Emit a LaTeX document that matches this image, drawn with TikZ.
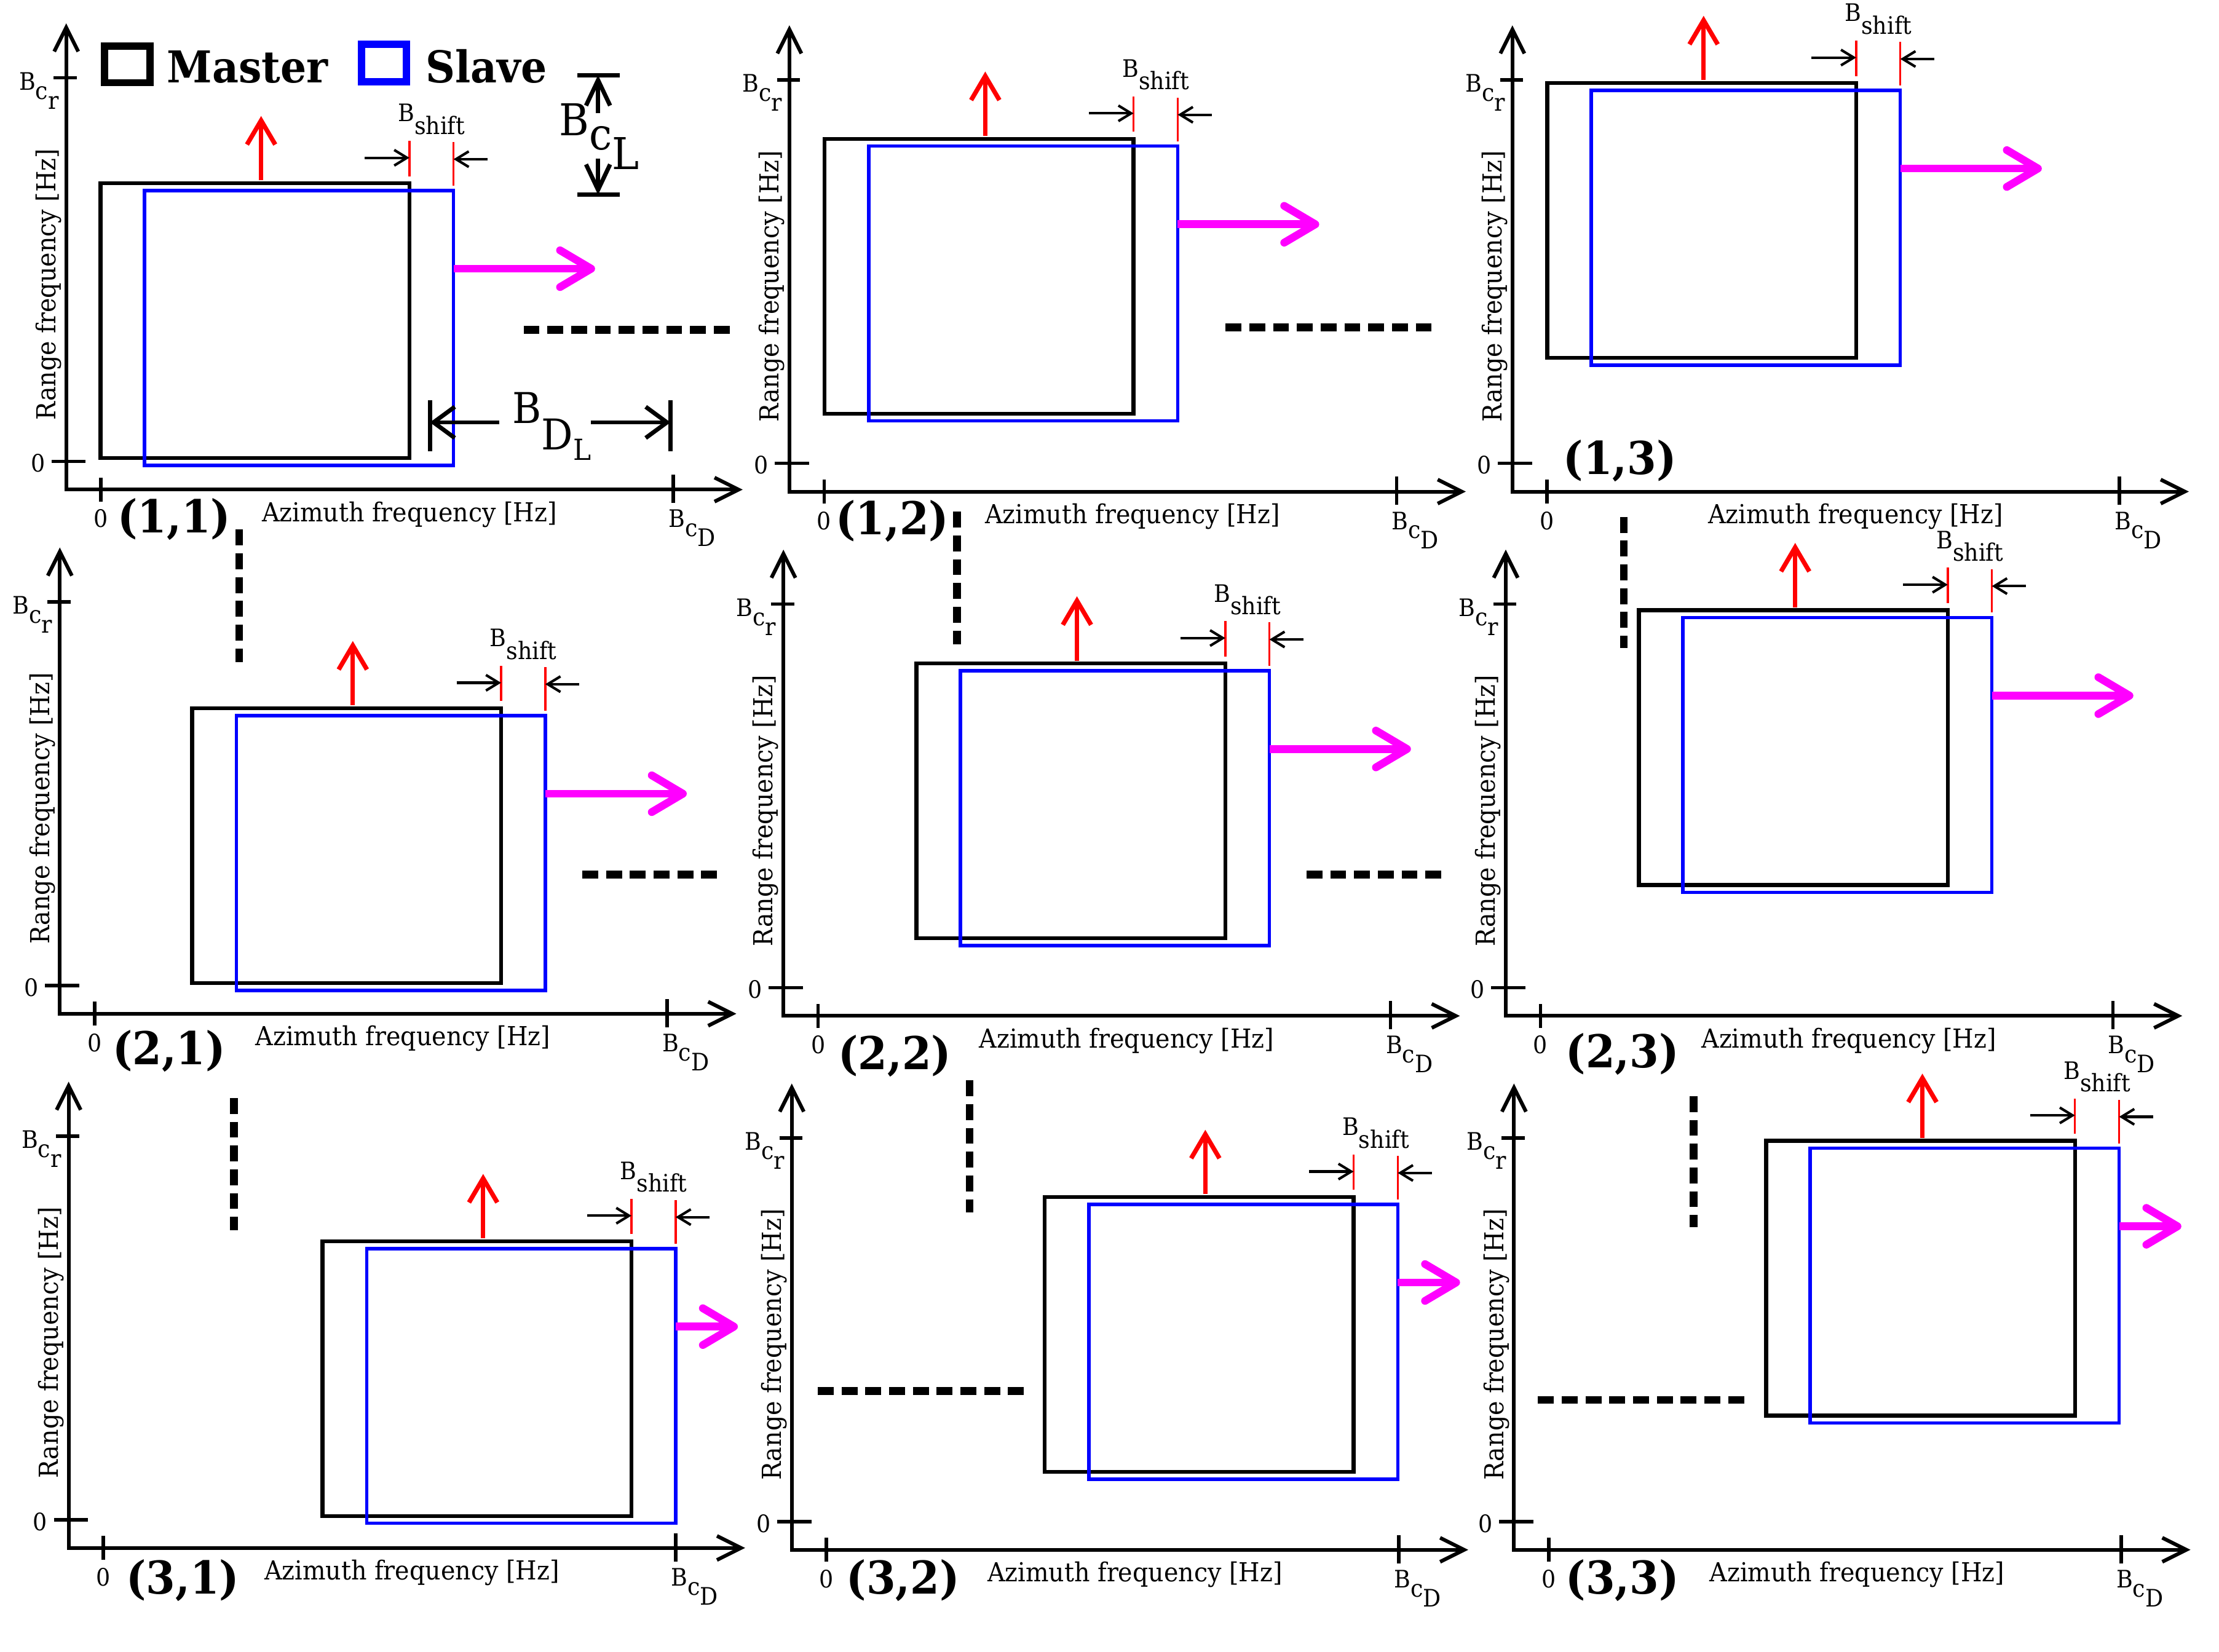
\documentclass[tikz,border=0pt]{standalone}
\usepackage{fontspec}
\setmainfont{DejaVu Serif}[FakeStretch=0.93]
\usetikzlibrary{arrows.meta}
\definecolor{magc}{RGB}{255,0,255}
\definecolor{pblue}{RGB}{0,0,255}
\definecolor{pred}{RGB}{255,0,0}
\newcommand\ftS{\fontsize{17}{20}\selectfont}
\newcommand\ftA{\fontsize{18.5}{22}\selectfont}
\newcommand\ftL{\bfseries\fontsize{32}{36}\selectfont}
\newcommand\ftG{\bfseries\fontsize{31}{35}\selectfont}
\newcommand\ftB{\fontsize{31}{35}\selectfont}
\newcommand\BBsub[2]{B\raisebox{-6.5pt}{#1\raisebox{-7pt}{#2}}}
\newcommand\Bshiftlab{B\raisebox{-8.8pt}{shift}}
\tikzset{
 axisline/.style={line width=2.6pt, {Straight Barb[length=17pt,width=17pt]}-{Straight Barb[length=17pt,width=17pt]}},
 tickline/.style={line width=2.4pt},
 masterbox/.style={line width=2.8pt, black},
 slavebox/.style={line width=2.4pt, pblue},
 redarrow/.style={line width=3.2pt, pred, -{Straight Barb[length=17pt,width=20pt]}},
 redtick/.style={line width=1.5pt, pred},
 smallarrow/.style={line width=1.8pt, -{Straight Barb[length=9pt,width=11pt]}},
 magarrow/.style={line width=5.5pt, magc, -{Straight Barb[length=22pt,width=26pt,round]}},
 dashline/.style={line width=5.5pt, dash pattern=on 11.2pt off 5.6pt},
 smalltext/.style={font=\ftS, inner sep=0pt},
 axtext/.style={font=\ftA, inner sep=0pt},
 paneltext/.style={font=\ftL, inner sep=0pt},
 dimarrow/.style={line width=3pt, -{Straight Barb[length=15pt,width=22pt]}},
 dimbar/.style={line width=3pt},
}
% #1 id, #2 Ox, #3 Oy, #4 red arrow offset, #5 master left, #6 master bottom, #7 magenta length
\newcommand\SARpanel[7]{%
\begin{scope}[shift={(#2,#3)}]
 \pgfmathsetmacro\PmL{#5}
 \pgfmathsetmacro\PmB{#6}
 \pgfmathsetmacro\PmR{#5+218.3}
 \pgfmathsetmacro\PmT{#6+194.2}
 \pgfmathsetmacro\PsL{#5+31.2}
 \pgfmathsetmacro\PsR{#5+218.3+31.2}
 \pgfmathsetmacro\PsB{#6-5.2}
 \pgfmathsetmacro\PsT{#6+194.2-5.2}
 \pgfmathsetmacro\PmC{(\PmR+\PsR)/2}
 \pgfmathsetmacro\PrX{#5+#4}
 \coordinate (#1-o) at (0,0);
 \coordinate (#1-xe) at (478,0);
 \coordinate (#1-ye) at (0,329.5);
 \draw[axisline] (#1-ye) -- (#1-o) -- (#1-xe);
 \draw[tickline] (24.5,-8.5) -- (24.5,8.5);
 \draw[tickline] (429,-9.5) -- (429,10.5);
 \draw[tickline] (-10.4,20) -- (13.8,20);
 \draw[tickline] (-8.8,291) -- (7.6,291);
 \node[smalltext, anchor=base] (#1-x0) at (24.5,-26.7) {0};
 \node[smalltext, anchor=base west] (#1-xb) at (425.5,-26.7) {\BBsub{c}{D}};
 \node[smalltext, anchor=base east] (#1-y0) at (-14.8,12.5) {0};
 \node[smalltext, anchor=base east] (#1-yb) at (-5,282.4) {\BBsub{c}{r}};
 \node[axtext, anchor=base] (#1-xl) at (242.5,-22.5) {Azimuth frequency [Hz]};
 \node[axtext, rotate=90, anchor=base] (#1-yl) at (-7.5,145) {Range frequency [Hz]};
 \draw[masterbox] (\PmL,\PmB) rectangle (\PmR,\PmT);
 \draw[slavebox] (\PsL,\PsB) rectangle (\PsR,\PsT);
 \draw[redarrow] (\PrX,\PmT+2) -- (\PrX,\PmT+47.5);
 \draw[redtick] (\PmR,\PmT+5) -- (\PmR,\PmT+30);
 \draw[redtick] (\PsR,\PmT-1.7) -- (\PsR,\PmT+29);
 \draw[smallarrow] (\PmR-31.5,\PmT+18) -- (\PmR,\PmT+18);
 \draw[smallarrow] (\PsR+24,\PmT+17) -- (\PsR,\PmT+17);
 \node[smalltext, anchor=base] (#1-bs) at (\PmC,\PmT+43.5) {\Bshiftlab};
 \draw[magarrow] (\PsR,\PmT-60.4) -- (\PsR+#7,\PmT-60.4);
\end{scope}}
\begin{document}
\begin{tikzpicture}[x=1pt,y=1pt]
\path[use as bounding box, fill=white] (0,0) rectangle (1568,1167);
\SARpanel{p11}{46.8}{821}{113.5}{24.2}{22.3}{100}
\SARpanel{p12}{557.8}{819.6}{113.5}{24.9}{55.1}{100}
\SARpanel{p13}{1068.7}{819.6}{110.5}{24.6}{94.5}{100}
\SARpanel{p21}{42.3}{450.6}{113.5}{93.5}{21.7}{100}
\SARpanel{p22}{553.6}{449.1}{113.5}{93.9}{54.8}{100}
\SARpanel{p23}{1064}{449.1}{110.5}{94}{92.5}{100}
\SARpanel{p31}{48.5}{73.1}{113.5}{179.4}{22.6}{44}
\SARpanel{p32}{559.5}{71.8}{113.5}{178.7}{55.1}{44}
\SARpanel{p33}{1069.8}{71.8}{110.5}{178.1}{94.8}{44}
% panel labels
\node[paneltext, anchor=base] (lab11) at (123,790.4) {(1,1)};
\node[paneltext, anchor=base] (lab12) at (630.5,789.2) {(1,2)};
\node[paneltext, anchor=base] (lab13) at (1144.7,831.6) {(1,3)};
\node[paneltext, anchor=base] (lab21) at (119.5,414.9) {(2,1)};
\node[paneltext, anchor=base] (lab22) at (632.2,411.1) {(2,2)};
\node[paneltext, anchor=base] (lab23) at (1146.4,412.4) {(2,3)};
\node[paneltext, anchor=base] (lab31) at (129.2,40.7) {(3,1)};
\node[paneltext, anchor=base] (lab32) at (638.1,40.7) {(3,2)};
\node[paneltext, anchor=base] (lab33) at (1146.4,40.7) {(3,3)};
% horizontal dashed links
\coordinate (h1a) at (370,933.8); \coordinate (h1b) at (517,933.8);
\coordinate (h2a) at (866,935.6); \coordinate (h2b) at (1013,935.6);
\coordinate (h3a) at (411.5,549); \coordinate (h3b) at (508,549);
\coordinate (h4a) at (923.2,549); \coordinate (h4b) at (1019.5,549);
\coordinate (h5a) at (577.9,184); \coordinate (h5b) at (725.1,184);
\coordinate (h6a) at (1086.8,177.7); \coordinate (h6b) at (1234.2,177.7);
\draw[dashline] (h1a) -- (h1b);
\draw[dashline] (h2a) -- (h2b);
\draw[dashline] (h3a) -- (h3b);
\draw[dashline] (h4a) -- (h4b);
\draw[dashline] (h5a) -- (h5b);
\draw[dashline] (h6a) -- (h6b);
% vertical dashed links
\coordinate (v1a) at (169,792.7); \coordinate (v1b) at (169,699.2);
\coordinate (v2a) at (676.2,805.4); \coordinate (v2b) at (676.2,711.7);
\coordinate (v3a) at (1147.4,801.7); \coordinate (v3b) at (1147.4,709.2);
\coordinate (v4a) at (165.2,391.1); \coordinate (v4b) at (165.2,297.7);
\coordinate (v5a) at (685.2,403.5); \coordinate (v5b) at (685.2,310.1);
\coordinate (v6a) at (1196.8,392.4); \coordinate (v6b) at (1196.8,299.7);
\draw[dashline] (v1a) -- (v1b);
\draw[dashline] (v2a) -- (v2b);
\draw[dashline] (v3a) -- (v3b);
\draw[dashline] (v4a) -- (v4b);
\draw[dashline] (v5a) -- (v5b);
\draw[dashline] (v6a) -- (v6b);
% legend
\node[draw, line width=5pt, minimum width=32pt, minimum height=26pt, inner sep=0pt] (legM) at (89.9,1121.5) {};
\node[draw=pblue, line width=5pt, minimum width=31.6pt, minimum height=26.6pt, inner sep=0pt] (legS) at (271.3,1122.5) {};
\node[font=\ftG, inner sep=0pt, anchor=base west] (legMt) at (117.8,1108.4) {Master};
\node[font=\ftG, inner sep=0pt, anchor=base west] (legSt) at (300.7,1108.4) {Slave};
% B_cL dimension
\coordinate (cL1) at (408,1113.9); \coordinate (cL2) at (438,1113.9);
\coordinate (cL3) at (408,1029.3); \coordinate (cL4) at (438,1029.3);
\draw[dimbar] (cL1) -- (cL2);
\draw[dimbar] (cL3) -- (cL4);
\coordinate (cLu0) at (422.6,1087); \coordinate (cLu1) at (422.6,1113.9);
\coordinate (cLd0) at (422.6,1055); \coordinate (cLd1) at (422.6,1029.3);
\draw[line width=3pt, -{Straight Barb[length=18pt,width=17pt]}] (cLu0) -- (cLu1);
\draw[line width=3pt, -{Straight Barb[length=18pt,width=17pt]}] (cLd0) -- (cLd1);
\node[font=\ftB, inner sep=0pt, anchor=base west] (BcL) at (395,1071) {B\raisebox{-10pt}{c\raisebox{-13.7pt}{L}}};
% B_DL dimension
\coordinate (dL1) at (303.8,848); \coordinate (dL2) at (303.8,884);
\coordinate (dL3) at (473.8,848); \coordinate (dL4) at (473.8,884);
\draw[dimbar] (dL1) -- (dL2);
\draw[dimbar] (dL3) -- (dL4);
\coordinate (dLa0) at (353,868.5); \coordinate (dLa1) at (303.8,868.5);
\coordinate (dLb0) at (417.4,868.5); \coordinate (dLb1) at (473.8,868.5);
\draw[dimarrow] (dLa0) -- (dLa1);
\draw[dimarrow] (dLb0) -- (dLb1);
\node[font=\fontsize{30}{34}\selectfont, inner sep=0pt, anchor=base west] (BDL) at (362,868) {B\raisebox{-19pt}{D\raisebox{-7.4pt}{\fontsize{20.5}{22}\selectfont L}}};
\end{tikzpicture}
\end{document}
